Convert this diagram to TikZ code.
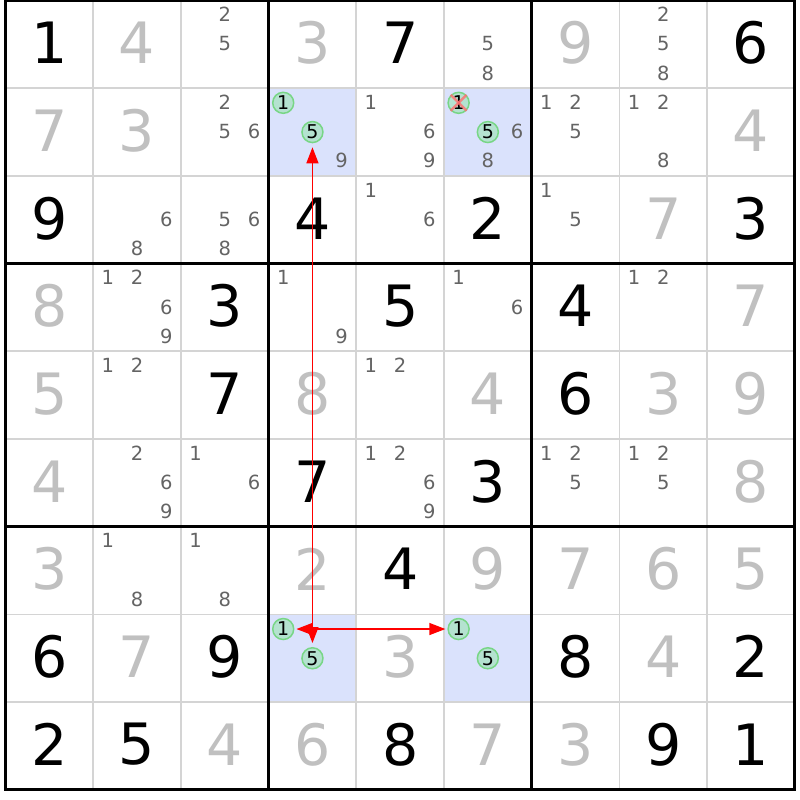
\documentclass[tikz,border=0pt]{standalone}
\usepackage{fontspec}
\setmainfont{DejaVu Sans}
\usetikzlibrary{arrows.meta}
\definecolor{solved}{RGB}{192,192,192}
\definecolor{cand}{RGB}{100,100,100}
\definecolor{hl}{RGB}{218,226,252}
\definecolor{gridthin}{RGB}{212,212,212}
\definecolor{circfill}{RGB}{180,226,208}
\definecolor{circdraw}{RGB}{120,214,134}
\definecolor{arrowred}{RGB}{255,0,0}
\definecolor{crossred}{RGB}{255,110,110}
\tikzset{
  given/.style={font=\fontsize{57}{57}\selectfont, text=black, inner sep=0pt},
  solvedd/.style={given, text=solved},
  cnd/.style={font=\fontsize{19.5}{19.5}\selectfont, text=cand, inner sep=0pt},
  candcirc/.style={circle, draw=circdraw, fill=circfill, line width=1.5pt, minimum size=21pt, inner sep=0pt, font=\fontsize{19}{19}\selectfont, text=black},
  thinline/.style={draw=gridthin, line width=1.7pt},
  thickline/.style={draw=black, line width=3pt},
  linkarrow/.style={draw=arrowred, line width=1.3pt, {Triangle[length=16pt,width=12pt]}-{Triangle[length=16pt,width=12pt]}},
  crossline/.style={draw=crossred, line width=2.4pt, opacity=0.8},
}
\begin{document}
\begin{tikzpicture}[x=1pt,y=-1pt]
\useasboundingbox (0,0) rectangle (800,800);
\fill[white] (0,0) rectangle (800,800);
\def\cs{87.7}\def\ox{5.5}\def\oy{0.5}
% highlighted cells
\foreach \r/\c in {2/4,2/6,8/4,8/6}
  \fill[hl] ({\ox+(\c-1)*\cs},{\oy+(\r-1)*\cs}) rectangle ++(\cs,\cs);
% thin grid
\foreach \i in {1,2,4,5,7,8} {
  \draw[thinline] ({\ox+\i*\cs},\oy) -- ++(0,{9*\cs});
  \draw[thinline] (\ox,{\oy+\i*\cs}) -- ++({9*\cs},0);
}
% thick grid
\foreach \i in {3,6} {
  \draw[thickline] ({\ox+\i*\cs},\oy) -- ++(0,{9*\cs});
  \draw[thickline] (\ox,{\oy+\i*\cs}) -- ++({9*\cs},0);
}
\draw[thickline] (\ox,\oy) rectangle ++({9*\cs},{9*\cs});
% given digits
\foreach \r/\c/\d in {1/1/1,1/5/7,1/9/6,3/1/9,3/4/4,3/6/2,3/9/3,4/3/3,4/5/5,4/7/4,5/3/7,5/7/6,6/4/7,6/6/3,7/5/4,8/1/6,8/3/9,8/7/8,8/9/2,9/1/2,9/2/5,9/5/8,9/8/9,9/9/1}
  \node[given] (g\r\c) at ({\ox+(\c-0.5)*\cs},{\oy+(\r-0.5)*\cs-1.5}) {\d};
% solved digits
\foreach \r/\c/\d in {1/2/4,1/4/3,1/7/9,2/1/7,2/2/3,2/9/4,3/8/7,4/1/8,4/9/7,5/1/5,5/4/8,5/6/4,5/8/3,5/9/9,6/1/4,6/9/8,7/1/3,7/4/2,7/6/9,7/7/7,7/8/6,7/9/5,8/2/7,8/5/3,8/8/4,9/3/4,9/4/6,9/6/7,9/7/3}
  \node[solvedd] (s\r\c) at ({\ox+(\c-0.5)*\cs},{\oy+(\r-0.5)*\cs-1.5}) {\d};
% candidates
\foreach \r/\c/\l in {1/3/{2,5},1/6/{5,8},1/8/{2,5,8},
  2/3/{2,5,6},2/4/{9},2/5/{1,6,9},2/6/{6,8},2/7/{1,2,5},2/8/{1,2,8},
  3/2/{6,8},3/3/{5,6,8},3/5/{1,6},3/7/{1,5},
  4/2/{1,2,6,9},4/4/{1,9},4/6/{1,6},4/8/{1,2},
  5/2/{1,2},5/5/{1,2},
  6/2/{2,6,9},6/3/{1,6},6/5/{1,2,6,9},6/7/{1,2,5},6/8/{1,2,5},
  7/2/{1,8},7/3/{1,8}} {
  \foreach \d in \l {
    \pgfmathtruncatemacro\cc{mod(\d-1,3)}
    \pgfmathtruncatemacro\rr{div(\d-1,3)}
    \node[cnd] (k\r\c\d) at ({\ox+(\c-1)*\cs+(\cc+0.5)*\cs/3},{\oy+(\r-1)*\cs+(\rr+0.5)*\cs/3-0.5}) {\d};
  }
}
% circled candidates
\foreach \r/\c/\d in {2/4/1,2/4/5,2/6/1,2/6/5,8/4/1,8/4/5,8/6/1,8/6/5} {
  \pgfmathtruncatemacro\cc{mod(\d-1,3)}
  \pgfmathtruncatemacro\rr{div(\d-1,3)}
  \node[candcirc] (a\r\c\d) at ({\ox+(\c-1)*\cs+(\cc+0.5)*\cs/3},{\oy+(\r-1)*\cs+(\rr+0.5)*\cs/3}) {\d};
}
% elimination cross
\draw[crossline] (a261.135) -- (a261.-45);
\draw[crossline] (a261.45) -- (a261.-135);
% chain links
\draw[linkarrow, shorten <=4pt, shorten >=4pt] (a845) -- (a245);
\draw[linkarrow, shorten <=2pt, shorten >=2pt] (a841) -- (a861);
\end{tikzpicture}
\end{document}
